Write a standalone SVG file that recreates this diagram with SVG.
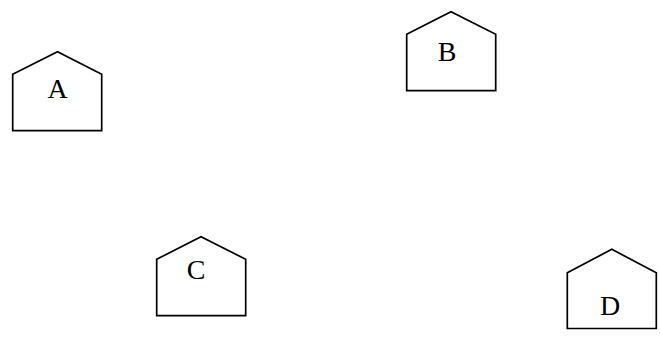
<svg xmlns="http://www.w3.org/2000/svg" width="660" height="338" viewBox="0 0 660 338">
<style>
.house{fill:#fff;stroke:#000;stroke-width:1.7;stroke-linejoin:miter}
.lbl{font-family:"Liberation Serif","Times New Roman",serif;font-size:28px;fill:#000;text-anchor:middle}
</style>
<rect width="660" height="338" fill="#fff"/>
<g id="connectors"></g>
<g id="A">
<polygon class="house" points="12.7,74.3 57.5,51.7 101.7,74.3 101.7,130.7 12.7,130.7"/>
<text class="lbl" x="57.5" y="98.3">A</text>
</g>
<g id="B">
<polygon class="house" points="406.7,34.3 451,11.7 495.7,34.3 495.7,90.7 406.7,90.7"/>
<text class="lbl" x="447" y="61">B</text>
</g>
<g id="C">
<polygon class="house" points="156.7,259.3 201,236.7 245.7,259.3 245.7,315.7 156.7,315.7"/>
<text class="lbl" x="196" y="278.5">C</text>
</g>
<g id="D">
<polygon class="house" points="567.3,272.7 611.8,249.3 656.3,272.7 656.3,328.5 567.3,328.5"/>
<text class="lbl" x="610" y="315">D</text>
</g>
</svg>
